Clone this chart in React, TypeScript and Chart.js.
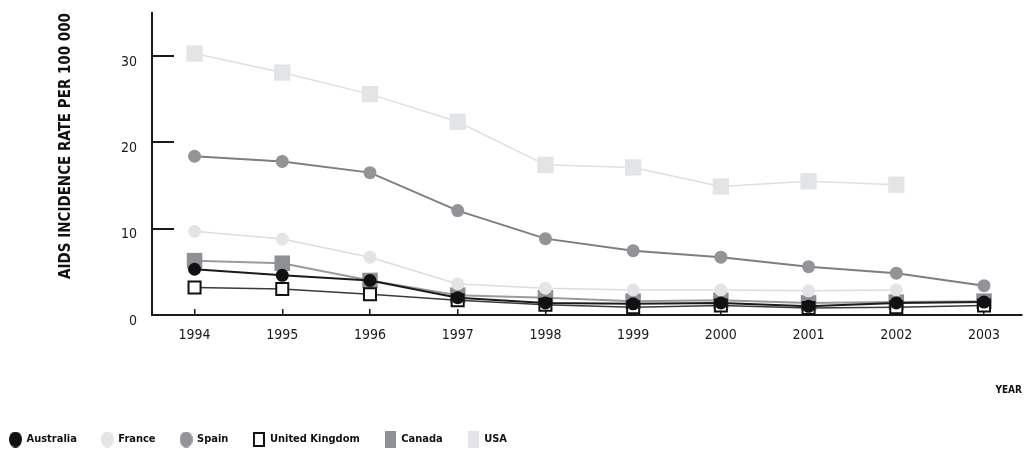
import React, { useEffect, useRef } from "react";
import { Chart, registerables } from "chart.js";

Chart.register(...registerables);

const FONT = "'Liberation Sans Narrow', 'DejaVu Sans Condensed', 'Arial Narrow', sans-serif";

const years = [1994, 1995, 1996, 1997, 1998, 1999, 2000, 2001, 2002, 2003];
const yTicks = [0, 10, 20, 30];
const yTitle = "AIDS INCIDENCE RATE PER 100 000";
const xTitle = "YEAR";

const australia = [5.3, 4.6, 4.0, 2.0, 1.4, 1.3, 1.4, 1.0, 1.4, 1.5];
const france = [9.7, 8.8, 6.7, 3.6, 3.1, 2.9, 2.9, 2.8, 2.9, null];
const spain = [18.4, 17.8, 16.5, 12.1, 8.85, 7.45, 6.7, 5.6, 4.85, 3.4];
const unitedKingdom = [3.2, 3.0, 2.4, 1.7, 1.2, 0.9, 1.1, 0.8, 0.9, 1.1];
const canada = [6.3, 6.0, 4.0, 2.3, 2.0, 1.6, 1.7, 1.4, 1.5, 1.6];
const usa = [30.3, 28.1, 25.6, 22.4, 17.4, 17.1, 14.9, 15.5, 15.1, null];

const toPoints = (values: (number | null)[]) =>
  years.map((x, i) => ({ x, y: values[i] })).filter((p) => p.y !== null);

function makeMarker(kind: string, fill: string, stroke: string, w: number, h: number, lw: number) {
  const c = document.createElement("canvas");
  c.width = w;
  c.height = h;
  const g = c.getContext("2d")!;
  g.fillStyle = fill;
  if (kind === "circle") {
    g.beginPath();
    g.ellipse(w / 2, h / 2, w / 2, h / 2, 0, 0, Math.PI * 2);
    g.fill();
  } else {
    g.fillRect(0, 0, w, h);
    if (lw > 0) {
      g.strokeStyle = stroke;
      g.lineWidth = lw;
      g.strokeRect(lw / 2, lw / 2, w - lw, h - lw);
    }
  }
  return c;
}

export default function App() {
  const ref = useRef<HTMLCanvasElement | null>(null);

  useEffect(() => {
    document.body.style.margin = "0";
    const legendMarkers = [
      makeMarker("circle", "#111111", "#111111", 13, 16, 0),
      makeMarker("circle", "#e3e4e6", "#e3e4e6", 13, 16, 0),
      makeMarker("circle", "#939498", "#939498", 13, 16, 0),
      makeMarker("rect", "#ffffff", "#111111", 12, 15, 2),
      makeMarker("rect", "#8f9094", "#8f9094", 11, 17, 0),
      makeMarker("rect", "#e3e4e6", "#e3e4e6", 11, 17, 0),
    ];

    const chart = new Chart(ref.current!, {
      type: "line",
      data: {
        datasets: [
          {
            label: "Australia",
            data: toPoints(australia),
            borderColor: "#1a1a1a",
            borderWidth: 2,
            pointStyle: "circle",
            pointRadius: 6.5,
            pointBackgroundColor: "#111111",
            pointBorderColor: "#111111",
            pointBorderWidth: 0,
          },
          {
            label: "France",
            data: toPoints(france),
            borderColor: "#dcdde0",
            borderWidth: 1.5,
            pointStyle: "circle",
            pointRadius: 6.5,
            pointBackgroundColor: "#e3e4e6",
            pointBorderColor: "#e3e4e6",
            pointBorderWidth: 0,
          },
          {
            label: "Spain",
            data: toPoints(spain),
            borderColor: "#7d7e82",
            borderWidth: 2,
            pointStyle: "circle",
            pointRadius: 6.5,
            pointBackgroundColor: "#939498",
            pointBorderColor: "#939498",
            pointBorderWidth: 0,
          },
          {
            label: "United Kingdom",
            data: toPoints(unitedKingdom),
            borderColor: "#3a3a3a",
            borderWidth: 1.5,
            pointStyle: "rect",
            pointRadius: 8.5,
            pointBackgroundColor: "#ffffff",
            pointBorderColor: "#111111",
            pointBorderWidth: 2,
          },
          {
            label: "Canada",
            data: toPoints(canada),
            borderColor: "#9a9b9f",
            borderWidth: 2,
            pointStyle: "rect",
            pointRadius: 11,
            pointBackgroundColor: "#8f9094",
            pointBorderColor: "#8f9094",
            pointBorderWidth: 0,
          },
          {
            label: "USA",
            data: toPoints(usa),
            borderColor: "#dedfe1",
            borderWidth: 1.5,
            pointStyle: "rect",
            pointRadius: 11.5,
            pointBackgroundColor: "#e3e4e6",
            pointBorderColor: "#e3e4e6",
            pointBorderWidth: 0,
          },
        ],
      },
      options: {
        responsive: false,
        animation: false,
        layout: { autoPadding: false, padding: { left: -15, top: 13, right: 4, bottom: 0 } },
        elements: { line: { tension: 0 } },
        plugins: {
          tooltip: { enabled: false },
          legend: {
            position: "bottom",
            align: "start",
            maxHeight: 41,
            labels: {
              usePointStyle: true,
              boxWidth: 12,
              boxHeight: 7,
              padding: 25,
              color: "#111111",
              font: { family: FONT, size: 11, weight: "bold" },
              generateLabels: (c: any) => {
                const items = Chart.defaults.plugins.legend.labels.generateLabels(c);
                return items.map((it: any, i: number) => ({ ...it, pointStyle: legendMarkers[i] }));
              },
            },
          },
        },
        scales: {
          x: {
            type: "linear",
            min: 1993.515,
            max: 2003.433,
            afterBuildTicks: (s: any) => {
              s.ticks = years.map((v) => ({ value: v }));
            },
            afterFit: (s: any) => {
              s.height = 94;
              s.paddingLeft = 0;
              s.paddingRight = 0;
              s.paddingTop = 0;
              s.paddingBottom = 0;
            },
            border: { display: true, color: "#1a1a1a", width: 2 },
            grid: {
              display: true,
              drawOnChartArea: false,
              drawTicks: true,
              tickLength: -6,
              color: "#1a1a1a",
              lineWidth: 1.5,
            },
            ticks: {
              padding: 18,
              color: "#1a1a1a",
              font: { family: FONT, size: 14 },
              maxRotation: 0,
              autoSkip: false,
              callback: (v: any) => String(v),
            },
            title: {
              display: true,
              text: xTitle,
              align: "end",
              color: "#111111",
              font: { family: FONT, size: 10, weight: "bold" },
              padding: { top: 0, bottom: 13 },
            },
          },
          y: {
            type: "linear",
            min: 0,
            max: 35,
            afterBuildTicks: (s: any) => {
              s.ticks = yTicks.map((v) => ({ value: v }));
            },
            afterFit: (s: any) => {
              s.width = 167;
              s.paddingLeft = 0;
              s.paddingRight = 0;
              s.paddingTop = 0;
              s.paddingBottom = 0;
            },
            border: { display: true, color: "#1a1a1a", width: 2 },
            grid: {
              display: true,
              drawOnChartArea: false,
              drawTicks: true,
              tickLength: -22,
              color: "#1a1a1a",
              lineWidth: 2,
            },
            ticks: {
              padding: 37,
              labelOffset: 6,
              color: "#1a1a1a",
              font: { family: FONT, size: 14 },
              callback: (v: any) => String(v),
            },
            title: {
              display: true,
              text: yTitle,
              align: "end",
              color: "#111111",
              font: { family: FONT, size: 15, weight: "bold" },
              padding: { top: 72, bottom: 0 },
            },
          },
        },
      },
    } as any);
    return () => chart.destroy();
  }, []);

  return (
    <div style={{ width: 1026, height: 450 }}>
      <canvas ref={ref} width={1026} height={450} style={{ display: "block" }} />
    </div>
  );
}
